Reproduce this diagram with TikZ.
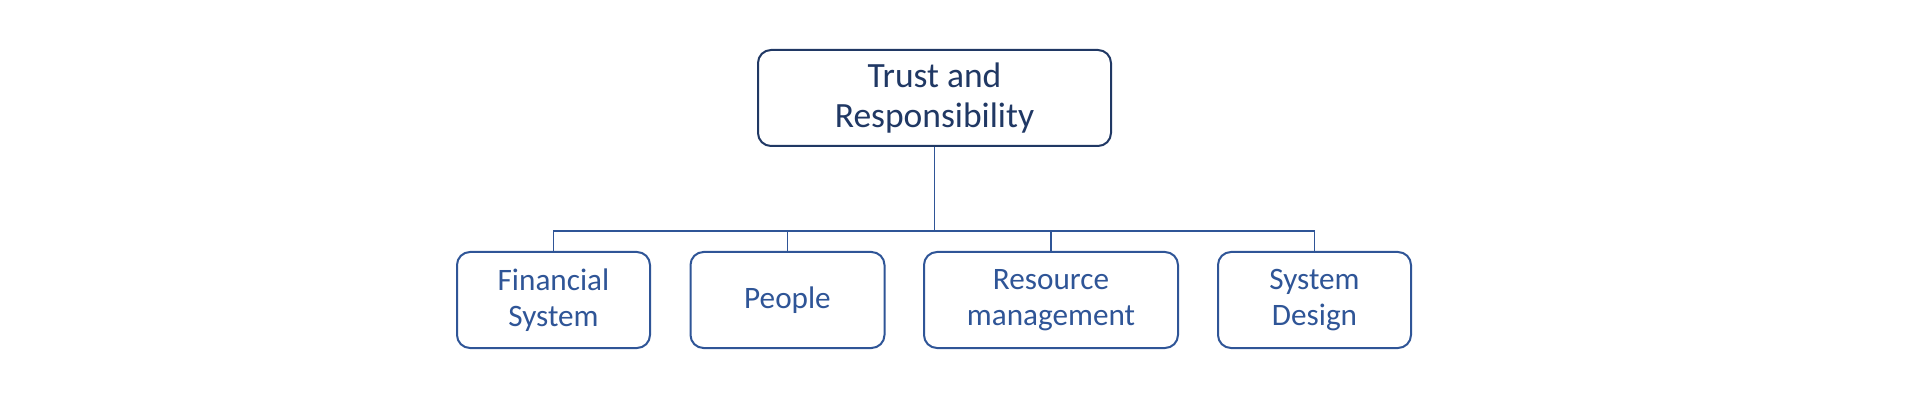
\documentclass[tikz,border=0pt]{standalone}
\usepackage{fontspec}
\setmainfont{Carlito}
\definecolor{dunkelblau}{HTML}{203864}
\definecolor{mittelblau}{HTML}{2F5597}
\tikzset{
  kasten/.style={draw, rounded corners=13pt, line width=2pt, align=center, fill=white},
  wurzel/.style={kasten, draw=dunkelblau, text=dunkelblau, minimum width=353pt, minimum height=96pt,
    font=\fontsize{35.5}{40.5}\selectfont},
  kind/.style={kasten, draw=mittelblau, text=mittelblau, minimum height=96pt,
    font=\fontsize{31.2}{35.5}\selectfont},
  verbindung/.style={draw=mittelblau, line width=1.8pt}
}
\begin{document}
\begin{tikzpicture}[x=1pt,y=-1pt]
  \useasboundingbox (0,0) rectangle (1920,406);
  % Wurzel
  \node[wurzel] (vertrauen) at (934.5,98) {Trust and\\Responsibility};
  % die Kinder
  \node[kind, minimum width=193pt] (finanzen) at (553.5,300) {Financial\\System};
  \node[kind, minimum width=194pt] (personen) at (787.5,300) {People};
  \node[kind, minimum width=254pt] (ressourcen) at (1051,300) {Resource\\management};
  \node[kind, minimum width=193pt] (systemdesign) at (1314.5,300) {System\\Design};
  % Verbindungen
  \coordinate (schiene) at (934.5,231);
  \foreach \k in {finanzen, personen, ressourcen, systemdesign}
   \draw[verbindung] (vertrauen.south) -- (schiene) -| (\k.north);
\end{tikzpicture}
\end{document}
